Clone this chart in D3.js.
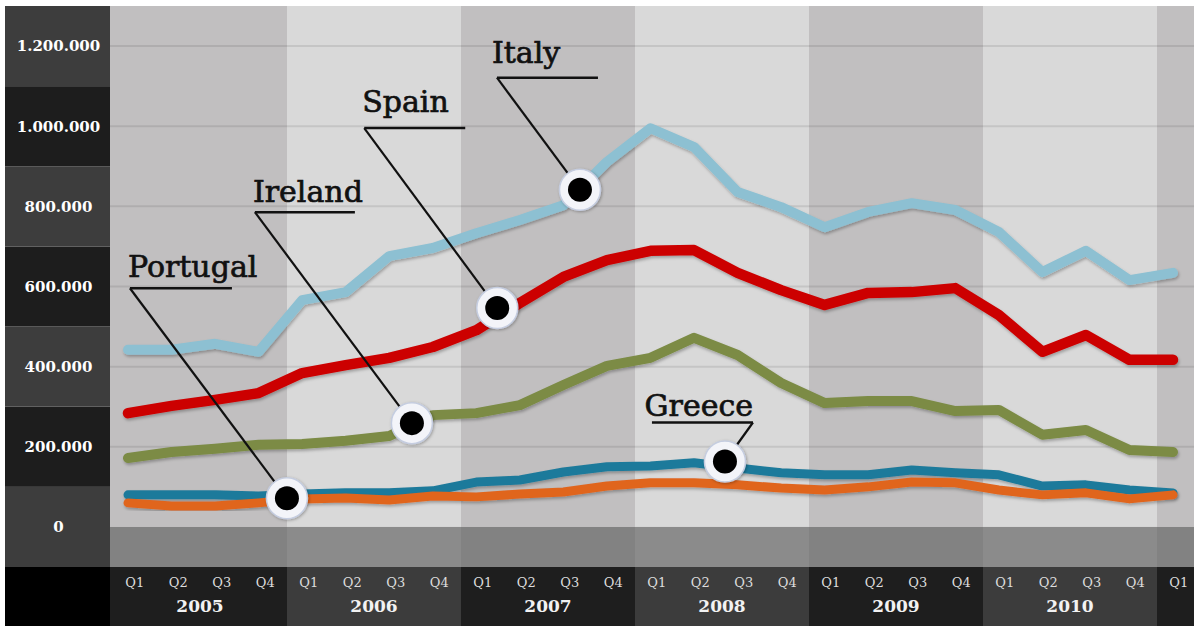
<!DOCTYPE html>
<html><head><meta charset="utf-8">
<script src="https://cdn.jsdelivr.net/npm/d3@7"></script>
<style>html,body{margin:0;padding:0;background:#fff;} svg{display:block;}</style>
</head><body><svg id="chart" width="1194" height="626"></svg>
<script>
// ---------- data ----------
const years = ["2005","2006","2007","2008","2009","2010","2011"];
const quarterLabels = ["Q1","Q2","Q3","Q4"];
const yTicks = [0, 200000, 400000, 600000, 800000, 1000000, 1200000];
const periodCount = 25; // 2005 Q1 .. 2011 Q1
const italy    = [442000,442000,457000,437000,566000,586000,676000,696000,733000,766000,803000,911000,995000,948000,836000,798000,748000,786000,808000,791000,736000,636000,689000,616000,634000];
const spain    = [284000,302000,317000,334000,384000,404000,422000,449000,491000,559000,624000,666000,689000,691000,634000,591000,554000,584000,586000,596000,529000,437000,479000,417000,417000];
const ireland  = [172000,187000,195000,205000,207000,215000,227000,279000,284000,304000,354000,402000,422000,472000,429000,359000,309000,314000,314000,289000,292000,230000,242000,192000,187000];
const greece   = [80000,80000,80000,77000,82000,85000,85000,90000,112000,117000,137000,150000,152000,160000,147000,135000,130000,130000,142000,135000,130000,102000,105000,92000,85000];
const portugal = [60000,52000,52000,60000,70000,72000,67000,77000,75000,82000,87000,102000,110000,110000,105000,97000,92000,100000,112000,110000,92000,80000,85000,70000,80000];
const seriesNames = ["Italy","Spain","Ireland","Greece","Portugal"];
const seriesValues = [italy, spain, ireland, greece, portugal];

// ---------- styles / layout ----------
const W = 1194, H = 626;
const plotL = 110, plotR = 1194, colL = 5;
const seriesColors = {Italy:"#8dc0d2", Spain:"#cc0000", Ireland:"#7b8b45", Greece:"#1f7a9b", Portugal:"#e0651f"};
const seriesWidth = {Italy:10, Spain:10.5, Ireland:10, Greece:9, Portugal:9};
const callouts = [
  {name:"Italy",    t:10.38, dy:1,  ux:-83,  uy:-112, len:101, dir:1,  tx:-5, ty:-15, anchor:"start"},
  {name:"Spain",    t:8.48,  dy:-9, ux:-133, uy:-180, len:101, dir:1,  tx:-2, ty:-16, anchor:"start"},
  {name:"Ireland",  t:6.52,  dy:-2, ux:-157, uy:-211, len:100, dir:1,  tx:-2, ty:-10, anchor:"start"},
  {name:"Portugal", t:3.65,  dy:-2, ux:-157, uy:-210, len:102, dir:1,  tx:-2, ty:-11, anchor:"start"},
  {name:"Greece",   t:13.71, dy:-5, ux:28,   uy:-39,  len:101, dir:-1, tx:0,  ty:-7,  anchor:"end"}
];

const svg = d3.select("#chart");
const defs = svg.append("defs");
const f = defs.append("filter").attr("id","shadow").attr("x","-5%").attr("y","-20%").attr("width","110%").attr("height","140%");
f.append("feDropShadow").attr("dx",1).attr("dy",2).attr("stdDeviation",1.5).attr("flood-color","#000").attr("flood-opacity",0.28);
const f2 = defs.append("filter").attr("id","mshadow").attr("x","-50%").attr("y","-50%").attr("width","200%").attr("height","200%");
f2.append("feDropShadow").attr("dx",1).attr("dy",1).attr("stdDeviation",1.5).attr("flood-color","#000").attr("flood-opacity",0.3);

// ---------- scales ----------
const y = d3.scaleLinear().domain([-100000, 1300000]).range([567, 6]);
const allQuarters = years.flatMap(yr => quarterLabels.map(q => yr + q));
const xq = d3.scaleBand().domain(allQuarters).range([113, 113 + allQuarters.length * 43.5]);
const x = d3.scaleLinear().domain([0, periodCount - 1]).range([128, 1173]);

const fmt = d3.formatLocale({decimal:",", thousands:".", grouping:[3], currency:["",""]}).format(",d");

svg.append("rect").attr("width",W).attr("height",H).attr("fill","#fff");

// left column bands
svg.append("g").selectAll("rect").data(yTicks).join("rect")
  .attr("x", colL).attr("width", plotL - colL)
  .attr("y", d => y(d + 100000)).attr("height", d => y(d - 100000) - y(d + 100000))
  .attr("fill", d => (d / 200000) % 2 === 0 ? "#3d3d3d" : "#1d1d1d");
svg.append("rect").attr("x", colL).attr("y", y(-100000)).attr("width", plotL - colL).attr("height", H - y(-100000)).attr("fill", "#000");

// year bands
const yearBand = (yr, i) => {
  const x0 = i === 0 ? plotL : xq(yr + "Q1");
  const x1 = Math.min(plotR, xq(yr + "Q4") + xq.bandwidth());
  return [x0, x1];
};
const yg = svg.append("g");
years.forEach((yr, i) => {
  const [x0, x1] = yearBand(yr, i);
  yg.append("rect").attr("x", x0).attr("width", x1 - x0).attr("y", y(1300000)).attr("height", y(0) - y(1300000))
    .attr("fill", i % 2 === 0 ? "#c1bfc0" : "#d9d9d9");
  yg.append("rect").attr("x", x0).attr("width", x1 - x0).attr("y", y(0)).attr("height", y(-100000) - y(0))
    .attr("fill", i % 2 === 0 ? "#828282" : "#8b8b8b");
  yg.append("rect").attr("x", x0).attr("width", x1 - x0).attr("y", y(-100000)).attr("height", H - y(-100000))
    .attr("fill", i % 2 === 0 ? "#1e1e1e" : "#3c3c3c");
});

// gridlines
svg.append("g").selectAll("line").data(yTicks.filter(d => d > 0)).join("line")
  .attr("x1", plotL).attr("x2", plotR).attr("y1", d => y(d)).attr("y2", d => y(d))
  .attr("stroke", "rgba(0,0,0,0.09)").attr("stroke-width", 2);

// y tick labels
svg.append("g").selectAll("text").data(yTicks).join("text")
  .attr("x", (colL + plotL) / 2 + 1).attr("y", d => y(d)).attr("dy", "0.36em")
  .attr("text-anchor", "middle").attr("fill", "#fff")
  .attr("font-family", "'DejaVu Serif', serif").attr("font-weight", "bold").attr("font-size", 15)
  .text(d => fmt(d));

// quarter + year labels
const visibleQuarters = allQuarters.filter(k => xq(k) + xq.bandwidth() / 2 < plotR);
svg.append("g").selectAll("text").data(visibleQuarters).join("text")
  .attr("x", k => xq(k) + xq.bandwidth() / 2).attr("y", 582).attr("dy", "0.35em")
  .attr("text-anchor", "middle").attr("fill", "#dcdcdc")
  .attr("font-family", "'DejaVu Serif', serif").attr("font-size", 13)
  .text(k => k.slice(4));
svg.append("g").selectAll("text").data(years.filter((yr, i) => { const [a,b] = yearBand(yr, i); return b - a > 100; })).join("text")
  .attr("x", yr => xq(yr + "Q2") + xq.bandwidth()).attr("y", 606).attr("dy", "0.35em")
  .attr("text-anchor", "middle").attr("fill", "#f2f2f2")
  .attr("font-family", "'DejaVu Serif', serif").attr("font-weight", "bold").attr("font-size", 17)
  .text(yr => yr);

// lines
const line = d3.line().x((d, i) => x(i)).y(d => y(d)).curve(d3.curveLinear);
const lg = svg.append("g");
seriesNames.forEach((name, si) => {
  lg.append("path").datum(seriesValues[si]).attr("d", line)
    .attr("fill", "none").attr("stroke", seriesColors[name]).attr("stroke-width", seriesWidth[name])
    .attr("stroke-linecap", "round").attr("stroke-linejoin", "round").attr("filter", "url(#shadow)");
});

// callouts
const cg = svg.append("g");
callouts.forEach(c => {
  const vals = seriesValues[seriesNames.indexOf(c.name)];
  const i0 = Math.floor(c.t), fr = c.t - i0;
  const v = vals[i0] + (vals[i0 + 1] - vals[i0]) * fr;
  const mx = x(c.t), my = y(v) + c.dy;
  const ax = mx + c.ux, ay = my + c.uy;
  cg.append("text").attr("x", ax + c.tx).attr("y", ay + c.ty).attr("text-anchor", c.anchor)
    .attr("font-family", "'DejaVu Serif', serif").attr("font-size", 30).attr("fill", "#111")
    .attr("stroke", "#111").attr("stroke-width", 0.7)
    .text(c.name);
  cg.append("line").attr("x1", ax).attr("y1", ay).attr("x2", ax + c.dir * c.len).attr("y2", ay)
    .attr("stroke", "#111").attr("stroke-width", 2.5);
  cg.append("line").attr("x1", ax).attr("y1", ay).attr("x2", mx).attr("y2", my)
    .attr("stroke", "#111").attr("stroke-width", 2.2);
  cg.append("circle").attr("cx", mx).attr("cy", my).attr("r", 20.5)
    .attr("fill", "#f3f4f9").attr("stroke", "#c5cde0").attr("stroke-width", 1.5).attr("filter", "url(#mshadow)");
  cg.append("circle").attr("cx", mx).attr("cy", my).attr("r", 12).attr("fill", "#000");
});
</script>
</body></html>
